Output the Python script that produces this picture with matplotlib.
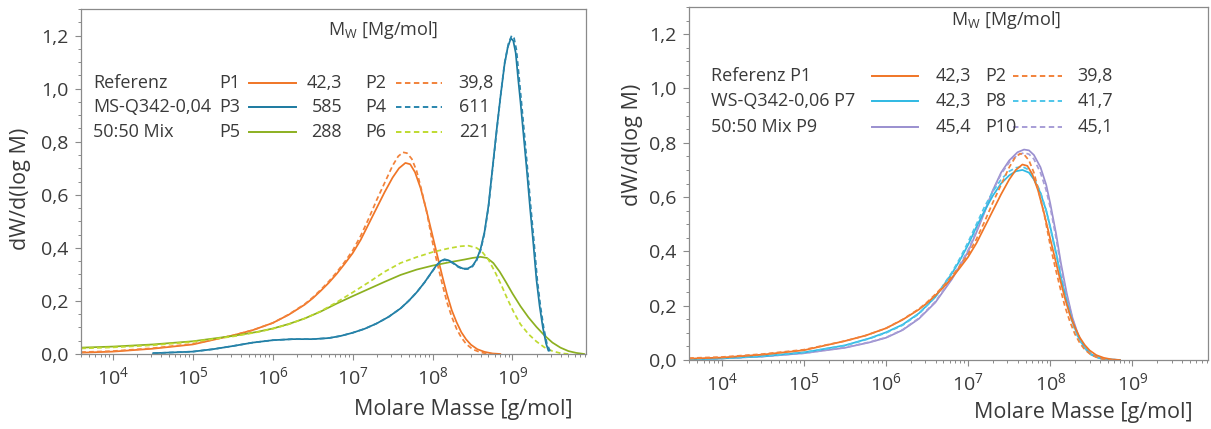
import numpy as np
import matplotlib
matplotlib.use("Agg")
import matplotlib.pyplot as plt
from matplotlib.lines import Line2D
from matplotlib.ticker import (LogLocator, FixedLocator, MultipleLocator, FuncFormatter,
                               NullFormatter, LogFormatterSciNotation)

plt.rcParams["font.family"] = ["Open Sans", "DejaVu Sans"]
plt.rcParams["mathtext.fontset"] = "custom"
plt.rcParams["mathtext.rm"] = "Open Sans"
plt.rcParams["mathtext.it"] = "Open Sans:italic"
plt.rcParams["mathtext.default"] = "regular"

TEXT = "#3a3a3a"
SPINE = "#8a8a8a"

# --- molar mass distributions, x as log10(M / g/mol) ---
lm_p1 = [3.6, 4.0, 4.5, 5.0, 5.5, 5.75, 6.0, 6.2, 6.4, 6.5, 6.6, 6.7, 6.8, 6.9, 7.0,
         7.1, 7.2, 7.3, 7.4, 7.5, 7.58, 7.66, 7.72, 7.78, 7.85, 7.92, 8.0, 8.06, 8.12,
         8.18, 8.24, 8.3, 8.36, 8.42, 8.48, 8.56, 8.65, 8.75, 8.85]
w_p1 = [0.005, 0.009, 0.02, 0.036, 0.07, 0.09, 0.117, 0.148, 0.186, 0.21, 0.238, 0.268,
        0.302, 0.34, 0.38, 0.43, 0.49, 0.55, 0.61, 0.665, 0.70, 0.72, 0.715, 0.685,
        0.625, 0.545, 0.445, 0.37, 0.295, 0.225, 0.165, 0.12, 0.082, 0.055, 0.035,
        0.018, 0.008, 0.002, 0.0]

lm_p2 = [3.6, 4.0, 4.5, 5.0, 5.5, 5.75, 6.0, 6.2, 6.4, 6.5, 6.6, 6.7, 6.8, 6.9, 7.0,
         7.1, 7.2, 7.3, 7.4, 7.5, 7.57, 7.63, 7.68, 7.74, 7.8, 7.86, 7.93, 8.0, 8.06,
         8.12, 8.18, 8.24, 8.3, 8.36, 8.42, 8.5, 8.6, 8.7, 8.8]
w_p2 = [0.007, 0.011, 0.022, 0.038, 0.07, 0.09, 0.117, 0.149, 0.188, 0.213, 0.242,
        0.273, 0.308, 0.347, 0.39, 0.445, 0.51, 0.58, 0.645, 0.71, 0.745, 0.76, 0.757,
        0.735, 0.69, 0.62, 0.53, 0.42, 0.34, 0.265, 0.195, 0.14, 0.095, 0.062, 0.038,
        0.018, 0.006, 0.001, 0.0]

lm_p3 = [4.5, 5.0, 5.25, 5.5, 5.75, 6.0, 6.25, 6.5, 6.7, 6.85, 7.0, 7.15, 7.3, 7.45,
         7.6, 7.7, 7.8, 7.9, 7.98, 8.05, 8.1, 8.15, 8.2, 8.25, 8.32, 8.38, 8.44, 8.5,
         8.55, 8.6, 8.65, 8.7, 8.75, 8.8, 8.85, 8.9, 8.94, 8.98, 9.01, 9.04, 9.07, 9.1,
         9.14, 9.18, 9.22, 9.26, 9.3, 9.34, 9.38, 9.42, 9.45]
w_p3 = [0.003, 0.009, 0.018, 0.03, 0.043, 0.052, 0.056, 0.056, 0.06, 0.068, 0.08,
        0.095, 0.115, 0.14, 0.172, 0.2, 0.232, 0.27, 0.305, 0.335, 0.35, 0.357, 0.353,
        0.345, 0.33, 0.322, 0.322, 0.332, 0.355, 0.395, 0.46, 0.56, 0.70, 0.84, 0.97,
        1.09, 1.155, 1.19, 1.18, 1.135, 1.04, 0.95, 0.82, 0.69, 0.55, 0.42, 0.28, 0.18,
        0.10, 0.04, 0.012]

lm_p4 = [4.5, 5.0, 5.25, 5.5, 5.75, 6.0, 6.25, 6.5, 6.7, 6.85, 7.0, 7.15, 7.3, 7.45,
         7.6, 7.7, 7.8, 7.9, 7.98, 8.05, 8.1, 8.15, 8.2, 8.25, 8.32, 8.38, 8.44, 8.5,
         8.55, 8.6, 8.65, 8.7, 8.75, 8.8, 8.85, 8.9, 8.95, 8.99, 9.02, 9.05, 9.08, 9.11,
         9.15, 9.19, 9.23, 9.27, 9.31, 9.35, 9.39, 9.43, 9.47]
w_p4 = [0.003, 0.009, 0.018, 0.03, 0.043, 0.052, 0.056, 0.056, 0.06, 0.068, 0.08,
        0.095, 0.115, 0.14, 0.172, 0.2, 0.232, 0.27, 0.304, 0.333, 0.348, 0.355, 0.351,
        0.343, 0.328, 0.32, 0.32, 0.33, 0.352, 0.39, 0.455, 0.555, 0.695, 0.835, 0.97,
        1.095, 1.17, 1.2, 1.19, 1.145, 1.05, 0.955, 0.825, 0.69, 0.55, 0.42, 0.28, 0.18,
        0.10, 0.04, 0.01]

lm_p5 = [3.6, 4.0, 4.5, 5.0, 5.5, 5.8, 6.0, 6.2, 6.4, 6.6, 6.8, 7.0, 7.2, 7.4, 7.6,
         7.8, 8.0, 8.2, 8.4, 8.5, 8.6, 8.68, 8.76, 8.84, 8.92, 9.0, 9.1, 9.2, 9.3, 9.4,
         9.5, 9.6, 9.7, 9.8, 9.9]
w_p5 = [0.024, 0.028, 0.036, 0.048, 0.068, 0.083, 0.096, 0.113, 0.134, 0.16, 0.19,
        0.218, 0.245, 0.272, 0.298, 0.318, 0.333, 0.345, 0.356, 0.362, 0.366, 0.362,
        0.343, 0.31, 0.27, 0.228, 0.18, 0.138, 0.102, 0.07, 0.043, 0.024, 0.011, 0.004,
        0.0]

lm_p6 = [3.6, 4.0, 4.5, 5.0, 5.5, 5.8, 6.0, 6.2, 6.4, 6.6, 6.8, 7.0, 7.2, 7.4, 7.6,
         7.8, 8.0, 8.2, 8.35, 8.45, 8.55, 8.62, 8.7, 8.78, 8.86, 8.94, 9.02, 9.1, 9.2,
         9.3, 9.4, 9.5, 9.6, 9.7]
w_p6 = [0.021, 0.025, 0.033, 0.046, 0.066, 0.082, 0.095, 0.112, 0.134, 0.161, 0.195,
        0.232, 0.27, 0.31, 0.343, 0.365, 0.384, 0.398, 0.406, 0.408, 0.40, 0.385,
        0.355, 0.31, 0.26, 0.205, 0.155, 0.112, 0.075, 0.047, 0.025, 0.011, 0.003, 0.0]

lm_p7 = [3.6, 4.0, 4.5, 5.0, 5.5, 5.8, 6.0, 6.2, 6.4, 6.6, 6.8, 6.9, 7.0, 7.1, 7.2,
         7.3, 7.4, 7.5, 7.58, 7.66, 7.74, 7.8, 7.88, 7.95, 8.0, 8.07, 8.13, 8.2, 8.27,
         8.34, 8.42, 8.5, 8.6, 8.7, 8.85]
w_p7 = [0.002, 0.006, 0.014, 0.028, 0.054, 0.08, 0.102, 0.13, 0.172, 0.232, 0.318,
        0.368, 0.425, 0.49, 0.55, 0.605, 0.65, 0.68, 0.695, 0.70, 0.69, 0.665, 0.615,
        0.55, 0.49, 0.395, 0.305, 0.215, 0.14, 0.085, 0.045, 0.02, 0.007, 0.002, 0.0]

lm_p8 = [3.6, 4.0, 4.5, 5.0, 5.5, 5.8, 6.0, 6.2, 6.4, 6.6, 6.8, 6.9, 7.0, 7.1, 7.2,
         7.3, 7.4, 7.5, 7.58, 7.66, 7.74, 7.8, 7.88, 7.95, 8.0, 8.07, 8.13, 8.2, 8.27,
         8.34, 8.42, 8.5, 8.6, 8.7, 8.85]
w_p8 = [0.002, 0.006, 0.014, 0.028, 0.053, 0.079, 0.1, 0.128, 0.17, 0.232, 0.322,
        0.375, 0.435, 0.50, 0.565, 0.62, 0.665, 0.695, 0.708, 0.712, 0.70, 0.672,
        0.618, 0.55, 0.485, 0.39, 0.30, 0.21, 0.135, 0.082, 0.043, 0.019, 0.006, 0.002,
        0.0]

lm_p9 = [3.6, 4.0, 4.5, 5.0, 5.5, 5.8, 6.0, 6.2, 6.4, 6.6, 6.8, 6.9, 7.0, 7.1, 7.2,
         7.3, 7.4, 7.5, 7.6, 7.68, 7.74, 7.8, 7.88, 7.95, 8.0, 8.07, 8.13, 8.2, 8.27,
         8.34, 8.42, 8.5, 8.6, 8.7, 8.85]
w_p9 = [0.002, 0.006, 0.013, 0.025, 0.045, 0.065, 0.082, 0.11, 0.152, 0.212, 0.297,
        0.347, 0.40, 0.47, 0.545, 0.625, 0.69, 0.735, 0.765, 0.775, 0.772, 0.755, 0.71,
        0.645, 0.575, 0.465, 0.355, 0.245, 0.155, 0.092, 0.045, 0.02, 0.007, 0.002, 0.0]

lm_p10 = [3.6, 4.0, 4.5, 5.0, 5.5, 5.8, 6.0, 6.2, 6.4, 6.6, 6.8, 6.9, 7.0, 7.1, 7.2,
          7.3, 7.4, 7.5, 7.6, 7.68, 7.74, 7.8, 7.88, 7.95, 8.0, 8.07, 8.13, 8.2, 8.27,
          8.34, 8.42, 8.5, 8.6, 8.7, 8.85]
w_p10 = [0.002, 0.006, 0.013, 0.025, 0.046, 0.066, 0.083, 0.111, 0.154, 0.215, 0.30,
         0.352, 0.405, 0.475, 0.548, 0.623, 0.685, 0.728, 0.755, 0.763, 0.758, 0.74,
         0.69, 0.625, 0.56, 0.45, 0.34, 0.235, 0.15, 0.088, 0.043, 0.019, 0.007, 0.002,
         0.0]

# weight-average molar masses in Mg/mol
mw_left = ["42,3", "585", "288"]
mw_left_dash = ["39,8", "611", "221"]
mw_right = ["42,3", "42,3", "45,4"]
mw_right_dash = ["39,8", "41,7", "45,1"]

x_decades = [1e4, 1e5, 1e6, 1e7, 1e8, 1e9]

ORANGE = "#f07526"
ORANGE_D = "#f2823a"
BLUE = "#1c7aa0"
BLUE_D = "#2a86ad"
GREEN = "#8cb020"
GREEN_D = "#bfda30"
CYAN = "#2fb9e3"
CYAN_D = "#4fc6ea"
PURPLE = "#9a8fcf"
PURPLE_D = "#a79dd6"

DASH = (2.8, 1.8)
FS_KEY = 13
FS_TICK = 14
FS_LABEL = 15.5


def style_axes(ax, ylabel_pos, xlabel_pos):
    ax.set_xscale("log")
    ax.set_xlim(10 ** 3.6, 10 ** 9.92)
    ax.set_ylim(0, 1.3)
    ax.xaxis.set_major_locator(FixedLocator(x_decades))
    ax.xaxis.set_major_formatter(LogFormatterSciNotation())
    ax.xaxis.set_minor_locator(LogLocator(base=10, subs=np.arange(2, 10), numticks=20))
    ax.xaxis.set_minor_formatter(NullFormatter())
    ax.yaxis.set_major_locator(MultipleLocator(0.2))
    ax.yaxis.set_minor_locator(MultipleLocator(0.05))
    ax.yaxis.set_major_formatter(FuncFormatter(lambda v, _: f"{v:.1f}".replace(".", ",")))
    ax.tick_params(which="major", length=4, width=0.8, color=SPINE,
                   labelsize=FS_TICK, labelcolor=TEXT, pad=5)
    ax.tick_params(which="minor", length=2.2, width=0.7, color=SPINE)
    for s in ax.spines.values():
        s.set_color(SPINE)
        s.set_linewidth(0.9)
    ax.set_ylabel("dW/d(log M)", fontsize=FS_LABEL, color=TEXT)
    ax.yaxis.set_label_coords(*ylabel_pos)
    ax.set_xlabel("Molare Masse [g/mol]", fontsize=FS_LABEL, color=TEXT,
                  ha="right", va="center")
    ax.xaxis.set_label_coords(*xlabel_pos)


def draw_series(ax, series):
    for lm, w, color, dashed in series:
        line, = ax.plot(10 ** np.asarray(lm), w, color=color, lw=1.25,
                        solid_joinstyle="round", solid_capstyle="round")
        if dashed:
            line.set_dashes(DASH)


def draw_key(ax, rows, cols, title_pos):
    tr = ax.transAxes
    ax.text(*title_pos, "M$_{W}$ [Mg/mol]", transform=tr, fontsize=FS_KEY,
            color=TEXT, ha="left", va="center")
    for y, (group, name_a, val_a, col_a, name_b, val_b, col_b) in rows:
        ax.text(cols["group"], y, group, transform=tr, fontsize=FS_KEY, color=TEXT,
                ha="left", va="center")
        if name_a:
            ax.text(cols["name_a"], y, name_a, transform=tr, fontsize=FS_KEY,
                    color=TEXT, ha="left", va="center")
        ax.add_line(Line2D(cols["line_a"], [y, y], transform=tr, color=col_a, lw=1.4))
        ax.text(cols["val_a"], y, val_a, transform=tr, fontsize=FS_KEY, color=TEXT,
                ha="right", va="center")
        ax.text(cols["name_b"], y, name_b, transform=tr, fontsize=FS_KEY, color=TEXT,
                ha="left", va="center")
        ax.add_line(Line2D(cols["line_b"], [y, y], transform=tr, color=col_b, lw=1.4,
                           dashes=DASH))
        ax.text(cols["val_b"], y, val_b, transform=tr, fontsize=FS_KEY, color=TEXT,
                ha="left", va="center")


fig = plt.figure(figsize=(12.11, 4.29), dpi=100)
ax1 = fig.add_axes([81 / 1211, 1 - 354 / 429, 505 / 1211, 345 / 429])
ax2 = fig.add_axes([689 / 1211, 1 - 360 / 429, 519 / 1211, 353 / 429])

# left: reference vs. MS-Q342-0,04 and the 50:50 blend
draw_series(ax1, [
    (lm_p1, w_p1, ORANGE, False), (lm_p2, w_p2, ORANGE_D, True),
    (lm_p5, w_p5, GREEN, False), (lm_p6, w_p6, GREEN_D, True),
    (lm_p3, w_p3, BLUE, False), (lm_p4, w_p4, BLUE_D, True),
])
style_axes(ax1, (-0.099, 0.48), (0.974, -0.162))
draw_key(ax1, [
    (0.786, ("Referenz", "P1", mw_left[0], ORANGE, "P2", mw_left_dash[0], ORANGE_D)),
    (0.716, ("MS-Q342-0,04", "P3", mw_left[1], BLUE, "P4", mw_left_dash[1], BLUE_D)),
    (0.643, ("50:50 Mix", "P5", mw_left[2], GREEN, "P6", mw_left_dash[2], GREEN_D)),
], dict(group=0.024, name_a=0.273, line_a=[0.333, 0.426], val_a=0.517,
        name_b=0.562, line_b=[0.624, 0.715], val_b=0.748), (0.489, 0.939))

# right: reference vs. WS-Q342-0,06 and the 50:50 blend
draw_series(ax2, [
    (lm_p9, w_p9, PURPLE, False), (lm_p10, w_p10, PURPLE_D, True),
    (lm_p7, w_p7, CYAN, False), (lm_p8, w_p8, CYAN_D, True),
    (lm_p1, w_p1, ORANGE, False), (lm_p2, w_p2, ORANGE_D, True),
])
style_axes(ax2, (-0.088, 0.61), (0.971, -0.15))
draw_key(ax2, [
    (0.805, ("Referenz P1", None, mw_right[0], ORANGE, "P2", mw_right_dash[0], ORANGE_D)),
    (0.734, ("WS-Q342-0,06 P7", None, mw_right[1], CYAN, "P8", mw_right_dash[1], CYAN_D)),
    (0.660, ("50:50 Mix P9", None, mw_right[2], PURPLE, "P10", mw_right_dash[2], PURPLE_D)),
], dict(group=0.042, name_a=None, line_a=[0.353, 0.441], val_a=0.544,
        name_b=0.570, line_b=[0.624, 0.719], val_b=0.748), (0.505, 0.963))

fig.savefig("out.png", dpi=100)
